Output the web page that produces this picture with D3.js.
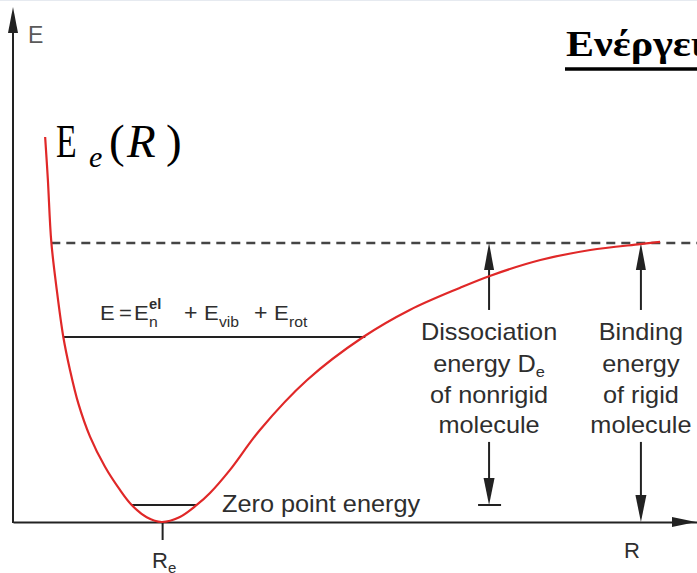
<!DOCTYPE html>
<html>
<head>
<meta charset="utf-8">
<script src="https://cdn.jsdelivr.net/npm/d3@7"></script>
<style>
  body { margin: 0; background: #fff; }
  svg { display: block; }
</style>
</head>
<body>
<svg id="chart"></svg>
<script>
const W = 697, H = 573;

// potential curve E_e(R) (R in axis units, E in units of De)
const curveR = [0.47, 0.51, 0.56, 0.64, 0.735, 0.833, 0.955, 1.126, 1.345, 1.564, 1.735, 1.955, 2.174, 2.44, 2.686, 2.88, 3.17, 3.61, 4.30, 5.12, 5.80, 6.53, 6.97, 7.71, 8.44, 9.17, 9.46];
const curveE = [1.38, 1.226, 1.004, 0.832, 0.664, 0.545, 0.425, 0.306, 0.198, 0.115, 0.061, 0.017, 0.0, 0.018, 0.061, 0.104, 0.186, 0.330, 0.509, 0.663, 0.760, 0.839, 0.882, 0.939, 0.975, 0.996, 1.004];

// energy levels (horizontal lines)
const levelNames = ['total', 'zero point'];
const levelE = [0.663, 0.061];
const levelR0 = [0.73, 1.74];
const levelR1 = [5.15, 2.69];

// equilibrium distance and dissociation limit
const Re = 2.18;
const De = 1;
const dashR0 = 0.56;

// the two energy arrows: R position, up arrow from, down arrow from/to
const arrowNames = ['dissociation', 'binding'];
const arrowR = [6.96, 9.18];
const arrowUpFrom = [0.76, 0.76];
const arrowDownFrom = [0.287, 0.287];
const arrowDownTo = [0.061, 0];

const labelLines = [
  ['Dissociation', 'energy D|e', 'of nonrigid', 'molecule'],
  ['Binding', 'energy', 'of rigid', 'molecule']
];

const svg = d3.select('#chart').attr('width', W).attr('height', H)
  .style('font-family', '"Liberation Sans", Arial, Helvetica, sans-serif');

const x = d3.scaleLinear().domain([0, 10]).range([13, 697]);
const y = d3.scaleLinear().domain([0, 1]).range([522, 243]);

const ink = '#222';
const textCol = '#2e2e2e';

svg.append('line')
  .attr('x1', 0).attr('x2', W).attr('y1', 0.5).attr('y2', 0.5)
  .attr('stroke', '#e6eaf0');

// arrow head helper: tip at (px, py), pointing up (dir=-1) or down (dir=1)
function head(g, px, py, dir, len, wid) {
  g.append('path')
    .attr('d', `M${px},${py}L${px - wid / 2},${py - dir * len}L${px + wid / 2},${py - dir * len}Z`)
    .attr('fill', ink);
}

// axes
const yTop = 7;
const xAxis = svg.append('g')
  .attr('transform', `translate(0,${y(0)})`)
  .call(d3.axisBottom(x).tickValues([Re]).tickFormat('').tickSize(18).tickSizeOuter(0));
xAxis.select('.domain').attr('stroke', ink).attr('stroke-width', 2);
xAxis.selectAll('.tick line').attr('stroke', ink).attr('stroke-width', 2);

svg.append('line')
  .attr('x1', x(0)).attr('x2', x(0)).attr('y1', y(0) + 1).attr('y2', yTop + 10)
  .attr('stroke', ink).attr('stroke-width', 2);
head(svg, x(0), yTop, -1, 26, 10);

svg.append('path')
  .attr('d', `M${W - 1},${y(0)}L${W - 25},${y(0) - 5}L${W - 25},${y(0) + 5}Z`)
  .attr('fill', ink);

// dissociation limit
svg.append('line')
  .attr('x1', x(dashR0)).attr('x2', W).attr('y1', y(De)).attr('y2', y(De))
  .attr('stroke', '#454545').attr('stroke-width', 2.5)
  .attr('stroke-dasharray', '9,6');

// levels
svg.selectAll('line.level')
  .data(levelNames)
  .join('line')
  .attr('class', 'level')
  .attr('x1', (d, i) => x(levelR0[i]))
  .attr('x2', (d, i) => x(levelR1[i]))
  .attr('y1', (d, i) => y(levelE[i]))
  .attr('y2', (d, i) => y(levelE[i]))
  .attr('stroke', ink).attr('stroke-width', 2);

// arrows
arrowNames.forEach((name, i) => {
  const px = x(arrowR[i]);
  svg.append('line')
    .attr('x1', px).attr('x2', px)
    .attr('y1', y(arrowUpFrom[i])).attr('y2', y(De) + 10)
    .attr('stroke', ink).attr('stroke-width', 2);
  head(svg, px, y(De), -1, 27, 10);

  svg.append('line')
    .attr('x1', px).attr('x2', px)
    .attr('y1', y(arrowDownFrom[i])).attr('y2', y(arrowDownTo[i]) - 10)
    .attr('stroke', ink).attr('stroke-width', 2);
  head(svg, px, y(arrowDownTo[i]), 1, 27, 11);

  if (arrowDownTo[i] > 0) {
    svg.append('line')
      .attr('x1', px - 11).attr('x2', px + 12)
      .attr('y1', y(arrowDownTo[i])).attr('y2', y(arrowDownTo[i]))
      .attr('stroke', ink).attr('stroke-width', 2);
  }
});

// potential curve
const pts = curveR.map((r, i) => ({r: r, e: curveE[i]}));
svg.append('path')
  .datum(pts)
  .attr('d', d3.line().x(d => x(d.r)).y(d => y(d.e)).curve(d3.curveCatmullRom.alpha(0.5)))
  .attr('fill', 'none')
  .attr('stroke', '#e02828')
  .attr('stroke-width', 2.2);

// stretched sans text, like the scanned figure
function label(txt, px, py, size, anchor) {
  const t = svg.append('text')
    .attr('transform', `translate(${px},${py}) scale(1.1,1)`)
    .attr('text-anchor', anchor || 'start')
    .attr('font-size', size)
    .attr('fill', textCol);
  const parts = txt.split('|');
  t.append('tspan').text(parts[0]);
  if (parts[1]) {
    t.append('tspan').attr('font-size', size * 0.65).attr('dy', 5).text(parts[1]);
  }
  return t;
}

const lineY = [340, 372, 403, 433];
labelLines.forEach((lines, i) => {
  lines.forEach((s, j) => label(s, x(arrowR[i]), lineY[j], 23, 'middle'));
});

label('Zero point energy', 222, 512, 23);

// axis labels
svg.append('text').attr('x', 28).attr('y', 43).attr('font-size', 23)
  .attr('fill', '#5a5a5a').text('E');
svg.append('text').attr('x', 624).attr('y', 558).attr('font-size', 22)
  .attr('fill', textCol).text('R');
const reLab = svg.append('text').attr('x', 152).attr('y', 568).attr('font-size', 22)
  .attr('fill', textCol);
reLab.append('tspan').text('R');
reLab.append('tspan').attr('font-size', 15).attr('dy', 5).text('e');

// E = E_n^el + E_vib + E_rot
const fy = 320;
const formula = [
  {t: 'E', x: 100, s: 21, dy: 0},
  {t: '=', x: 119, s: 21, dy: 0},
  {t: 'E', x: 134, s: 21, dy: 0},
  {t: 'el', x: 149, s: 14, dy: -11},
  {t: 'n', x: 149, s: 15, dy: 7},
  {t: '+', x: 184, s: 22, dy: 0},
  {t: 'E', x: 204, s: 21, dy: 0},
  {t: 'vib', x: 219, s: 15, dy: 7},
  {t: '+', x: 254, s: 22, dy: 0},
  {t: 'E', x: 274, s: 21, dy: 0},
  {t: 'rot', x: 289, s: 15, dy: 7}
];
svg.append('g').selectAll('text')
  .data(formula)
  .join('text')
  .attr('transform', d => `translate(${d.x},${fy + d.dy}) scale(1.05,1)`)
  .attr('font-size', d => d.s)
  .attr('font-weight', d => d.t === 'el' ? 'bold' : null)
  .attr('fill', textCol)
  .text(d => d.t);

// E_e(R) in serif
const serif = '"Liberation Serif", "Times New Roman", serif';
svg.append('text')
  .attr('transform', 'translate(56,157) scale(0.72,1)')
  .attr('font-family', serif).attr('font-size', 47).attr('fill', '#000')
  .text('E');
svg.append('text').attr('x', 89).attr('y', 167)
  .attr('font-family', serif).attr('font-size', 30).attr('font-style', 'italic')
  .attr('fill', '#000').text('e');
svg.append('text').attr('x', 109).attr('y', 157)
  .attr('font-family', serif).attr('font-size', 47).attr('fill', '#000').text('(');
svg.append('text').attr('x', 127).attr('y', 157)
  .attr('font-family', serif).attr('font-size', 47).attr('font-style', 'italic')
  .attr('fill', '#000').text('R');
svg.append('text').attr('x', 166).attr('y', 157)
  .attr('font-family', serif).attr('font-size', 47).attr('fill', '#000').text(')');

// title, cut by the right edge as in the source slide
svg.append('text')
  .attr('transform', 'translate(566,56) scale(1.2,1)')
  .attr('font-family', serif).attr('font-size', 35).attr('font-weight', 'bold')
  .attr('fill', '#000').text('Ενέργεια');
svg.append('line')
  .attr('x1', 565).attr('x2', W).attr('y1', 69).attr('y2', 69)
  .attr('stroke', '#000').attr('stroke-width', 3.5);
</script>
</body>
</html>
